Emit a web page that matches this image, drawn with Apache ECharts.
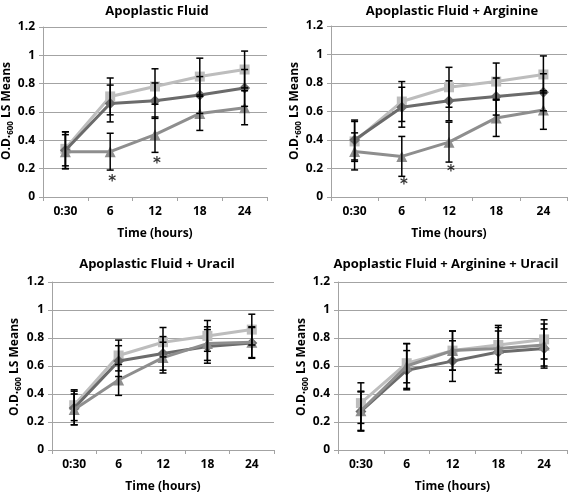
<!DOCTYPE html>
<html><head><meta charset="utf-8">
<script src="https://cdn.jsdelivr.net/npm/echarts@6/dist/echarts.min.js"></script>
<style>html,body{margin:0;padding:0;background:#fff}#c{width:568px;height:494px}</style>
</head><body><div id="c"></div>
<script>
const categories = ['0:30', '6', '12', '18', '24'];
const yTicks = [0, 0.2, 0.4, 0.6, 0.8, 1, 1.2];
const panelTitles = ['Apoplastic Fluid', 'Apoplastic Fluid + Arginine', 'Apoplastic Fluid + Uracil', 'Apoplastic Fluid + Arginine + Uracil'];
const xAxisTitle = 'Time (hours)';
const yTitleParts = ['O.D.', '600', ' LS Means'];

// light gray squares
const squareVals = [
  [0.34, 0.71, 0.78, 0.85, 0.90],
  [0.39, 0.67, 0.77, 0.81, 0.86],
  [0.32, 0.675, 0.77, 0.815, 0.86],
  [0.335, 0.62, 0.71, 0.75, 0.79]
];
const squareErr = [
  [0.12, 0.13, 0.125, 0.13, 0.13],
  [0.14, 0.14, 0.14, 0.13, 0.13],
  [0.11, 0.11, 0.105, 0.11, 0.11],
  [0.145, 0.14, 0.14, 0.14, 0.14]
];
// dark gray diamonds
const diamondVals = [
  [0.33, 0.66, 0.68, 0.72, 0.77],
  [0.40, 0.63, 0.675, 0.705, 0.735],
  [0.30, 0.635, 0.69, 0.74, 0.765],
  [0.275, 0.57, 0.635, 0.70, 0.725]
];
const diamondErr = [
  [0.13, 0.13, 0.125, 0.13, 0.13],
  [0.14, 0.14, 0.14, 0.13, 0.13],
  [0.12, 0.11, 0.12, 0.12, 0.11],
  [0.14, 0.14, 0.145, 0.15, 0.14]
];
// medium gray triangles
const triangleVals = [
  [0.32, 0.32, 0.44, 0.59, 0.63],
  [0.32, 0.285, 0.385, 0.555, 0.61],
  [0.29, 0.50, 0.66, 0.76, 0.77],
  [0.28, 0.60, 0.71, 0.725, 0.75]
];
const triangleErr = [
  [0.12, 0.13, 0.125, 0.12, 0.12],
  [0.13, 0.14, 0.14, 0.13, 0.135],
  [0.11, 0.11, 0.11, 0.12, 0.11],
  [0.14, 0.16, 0.14, 0.15, 0.15]
];
// significance asterisks: [panel, category, value]
const asterisks = [
  [0, '6', 0.13], [0, '12', 0.26],
  [1, '6', 0.11], [1, '12', 0.20]
];

const grids = [
  {left: 43, top: 27, width: 224, height: 170},
  {left: 331, top: 26, width: 236, height: 171},
  {left: 52, top: 282, width: 222, height: 170},
  {left: 338, top: 282, width: 229, height: 170}
];
const titlePos = [[152, 0], [447, 0], [152, 253], [441, 253]];
const yTitlePos = [[7, 111], [295, 111], [15, 367], [302, 367]];
const FONT = '"Open Sans", sans-serif';
const gridColor = '#a3a3a3';

const option = {
  animation: false,
  backgroundColor: '#fff',
  title: panelTitles.map((t, i) => ({
    text: t, left: titlePos[i][0], top: titlePos[i][1], textAlign: 'center',
    textStyle: {fontFamily: FONT, fontWeight: 'bold', fontSize: 13, color: '#000'}
  })),
  graphic: yTitlePos.map(p => ({
    type: 'text', x: p[0], y: p[1], rotation: Math.PI / 2,
    style: {
      text: '{a|' + yTitleParts[0] + '}{s|' + yTitleParts[1] + '}{a|' + yTitleParts[2] + '}',
      align: 'center', verticalAlign: 'middle',
      rich: {
        a: {fontFamily: FONT, fontWeight: 'bold', fontSize: 12, fill: '#000', verticalAlign: 'bottom'},
        s: {fontFamily: FONT, fontWeight: 'bold', fontSize: 8, fill: '#000', verticalAlign: 'bottom', padding: [0, 0, -2, 0]}
      }
    }
  })),
  grid: grids,
  xAxis: grids.map((g, i) => ({
    gridIndex: i, type: 'category', data: categories, boundaryGap: true,
    name: xAxisTitle, nameLocation: 'middle', nameGap: 31,
    nameTextStyle: {fontFamily: FONT, fontWeight: 'bold', fontSize: 12, color: '#000'},
    axisLine: {lineStyle: {color: gridColor, width: 1}},
    axisTick: {show: true, length: 4, lineStyle: {color: gridColor}},
    axisLabel: {fontFamily: FONT, fontWeight: 'bold', fontSize: 12, color: '#000', margin: 9},
    splitLine: {show: false}
  })),
  yAxis: grids.map((g, i) => ({
    gridIndex: i, type: 'value', min: 0, max: 1.2, interval: 0.2,
    axisLine: {show: true, lineStyle: {color: gridColor, width: 1}},
    axisTick: {show: true, length: 4, lineStyle: {color: gridColor}},
    axisLabel: {
      fontFamily: FONT, fontWeight: 'bold', fontSize: 12, color: '#000', margin: 8,
      formatter: v => { const t = yTicks.find(x => Math.abs(x - v) < 1e-9); return t === undefined ? '' : String(+t.toFixed(1)); }
    },
    splitLine: {show: true, lineStyle: {color: gridColor, width: 1}}
  })),
  series: []
};

const seriesDefs = [
  {vals: squareVals, err: squareErr, color: '#bdbdbd', symbol: 'rect', size: 10, z: 3},
  {vals: diamondVals, err: diamondErr, color: '#6b6b6b', symbol: 'diamond', size: 11, z: 4},
  {vals: triangleVals, err: triangleErr, color: '#8e8e8e', symbol: 'triangle', size: 11, z: 5}
];

for (let p = 0; p < 4; p++) {
  seriesDefs.forEach(sd => {
    option.series.push({
      type: 'line', xAxisIndex: p, yAxisIndex: p, z: sd.z,
      data: sd.vals[p], symbol: sd.symbol, symbolSize: sd.size, showSymbol: true,
      lineStyle: {color: sd.color, width: 3}, itemStyle: {color: sd.color}
    });
  });
  seriesDefs.forEach(sd => {
    option.series.push({
      type: 'custom', xAxisIndex: p, yAxisIndex: p, z: 10,
      data: categories.map((c, k) => [k, sd.vals[p][k] - sd.err[p][k], sd.vals[p][k] + sd.err[p][k]]),
      renderItem: (params, api) => {
        const lo = api.coord([api.value(0), api.value(1)]);
        const hi = api.coord([api.value(0), api.value(2)]);
        const hw = 3.5;
        const st = {stroke: '#000', lineWidth: 1.5};
        return {type: 'group', children: [
          {type: 'line', shape: {x1: lo[0], y1: lo[1], x2: hi[0], y2: hi[1]}, style: st},
          {type: 'line', shape: {x1: lo[0] - hw, y1: lo[1], x2: lo[0] + hw, y2: lo[1]}, style: st},
          {type: 'line', shape: {x1: hi[0] - hw, y1: hi[1], x2: hi[0] + hw, y2: hi[1]}, style: st}
        ]};
      },
      encode: {x: 0, y: [1, 2]}
    });
  });
  const ast = asterisks.filter(a => a[0] === p).map(a => [a[1], a[2]]);
  if (ast.length) {
    option.series.push({
      type: 'scatter', xAxisIndex: p, yAxisIndex: p, z: 11,
      data: ast, symbolSize: 0,
      label: {show: true, formatter: '*', position: 'inside', offset: [2, 4],
        fontFamily: '"DejaVu Sans", sans-serif', fontWeight: 'bold', fontSize: 15, color: '#000'}
    });
  }
}

const chart = echarts.init(document.getElementById('c'), null, {renderer: 'canvas'});
chart.setOption(option);
</script>
</body></html>
